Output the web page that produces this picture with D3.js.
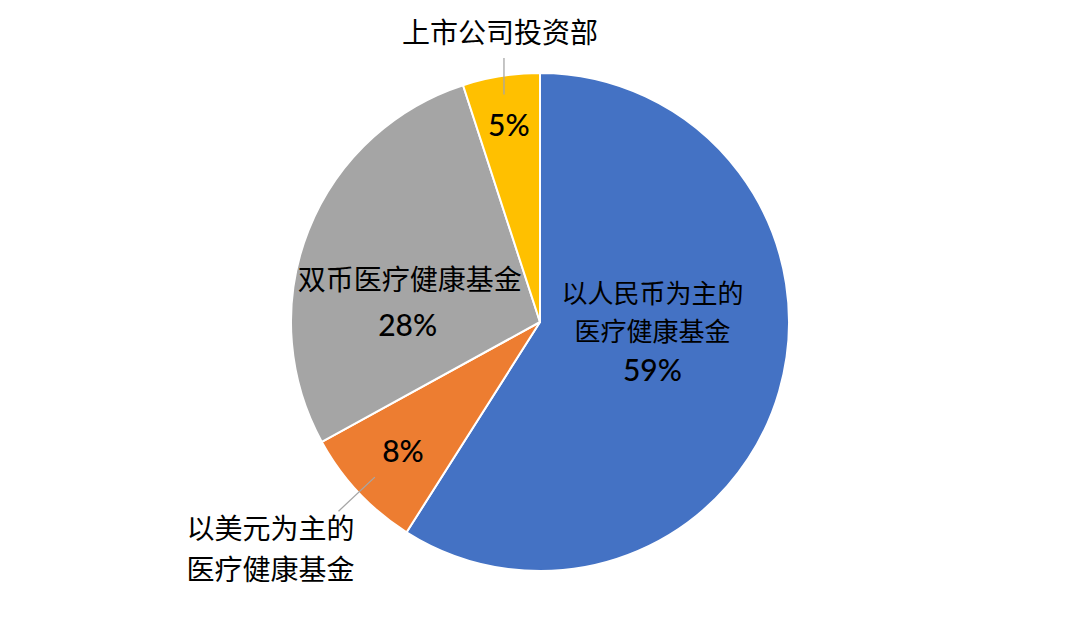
<!DOCTYPE html>
<html>
<head>
<meta charset="utf-8">
<script src="https://cdn.jsdelivr.net/npm/d3@7"></script>
<style>
  body { margin: 0; background: #fff; }
  svg { display: block; }
  .cat { font-family: 'Noto Sans CJK SC', sans-serif; font-size: 28px; fill: #000; }
  .cat.tight { font-size: 26px; }
  .pct { font-family: Lato, 'Noto Sans CJK SC', sans-serif; font-size: 30px; font-weight: 500; fill: #000; }
</style>
</head>
<body>
<svg id="chart" width="1080" height="638"></svg>
<script>
// slices clockwise from 12 o'clock
const categories = [
  ['以人民币为主的', '医疗健康基金'],
  ['以美元为主的', '医疗健康基金'],
  ['双币医疗健康基金'],
  ['上市公司投资部']
]
const values = [59, 8, 28, 5]
const colors = ['#4472C4', '#ED7D31', '#A5A5A5', '#FFC000']

const cx = 540
const cy = 322
const radius = 249

const svg = d3.select('#chart')
const g = svg.append('g')
  .attr('transform', 'translate(' + cx + ',' + cy + ')')

const pie = d3.pie().sort(null).value((d) => d.value)
const arcs = pie(values.map((v, i) => ({ value: v, i: i })))

const arc = d3.arc().innerRadius(0).outerRadius(radius)

g.selectAll('path.slice')
  .data(arcs)
  .enter().append('path')
  .attr('class', 'slice')
  .attr('d', arc)
  .attr('fill', (d) => colors[d.data.i])
  .attr('stroke', '#fff')
  .attr('stroke-width', 2)
  .attr('stroke-linejoin', 'round')

// point at fraction k of radius, on the slice's mid angle
function at (d, k) {
  const a = (d.startAngle + d.endAngle) / 2
  return [Math.sin(a) * radius * k, -Math.cos(a) * radius * k]
}

const pct = (d) => Math.round(d.data.value) + '%'

// multi-line category text, one <text> with tspans
function catText (lines, x, y, gap, cls) {
  const t = g.append('text').attr('class', 'cat' + (cls ? ' ' + cls : ''))
    .attr('text-anchor', 'middle')
    .attr('x', x).attr('y', y)
  lines.forEach((s, i) => {
    t.append('tspan').attr('x', x).attr('dy', i === 0 ? 0 : gap).text(s)
  })
}

// blue: label inside, three lines
;(function () {
  const d = arcs[0]
  const p = at(d, 0.47)
  const x = p[0]
  const y = p[1] - 31
  catText(categories[0], x, y - 21, 38, 'tight')
  g.append('text').attr('class', 'pct').attr('text-anchor', 'middle')
    .attr('x', x).attr('y', y + 57).text(pct(d))
})()

// gray: label inside, two lines
;(function () {
  const d = arcs[2]
  const p = at(d, 0.55)
  const x = p[0] - 3
  const y = p[1] + 30
  catText(categories[2], x, y - 12, 36)
  g.append('text').attr('class', 'pct').attr('text-anchor', 'middle')
    .attr('x', x - 2).attr('y', y + 34).text(pct(d))
})()

// orange: percent inside, category outside with leader
;(function () {
  const d = arcs[1]
  const p = at(d, 0.755)
  g.append('text').attr('class', 'pct').attr('text-anchor', 'middle')
    .attr('x', p[0]).attr('y', p[1] + 11).text(pct(d))
  const a = at(d, 0.91)
  const b = at(d, 1.11)
  g.append('line')
    .attr('x1', a[0]).attr('y1', a[1]).attr('x2', b[0]).attr('y2', b[1])
    .attr('stroke', '#A6A6A6').attr('stroke-width', 1.3)
  catText(categories[1], b[0] - 68, b[1] + 28, 41)
})()

// yellow: percent inside, category above with leader
;(function () {
  const d = arcs[3]
  const p = at(d, 0.8)
  g.append('text').attr('class', 'pct').attr('text-anchor', 'middle')
    .attr('x', p[0]).attr('y', p[1] + 11).text(pct(d))
  const a = at(d, 0.925)
  g.append('line')
    .attr('x1', a[0]).attr('y1', a[1]).attr('x2', a[0]).attr('y2', -radius * 1.06)
    .attr('stroke', '#A6A6A6').attr('stroke-width', 1.3)
  catText(categories[3], a[0] - 4, -radius * 1.06 - 15, 0)
})()
</script>
</body>
</html>
